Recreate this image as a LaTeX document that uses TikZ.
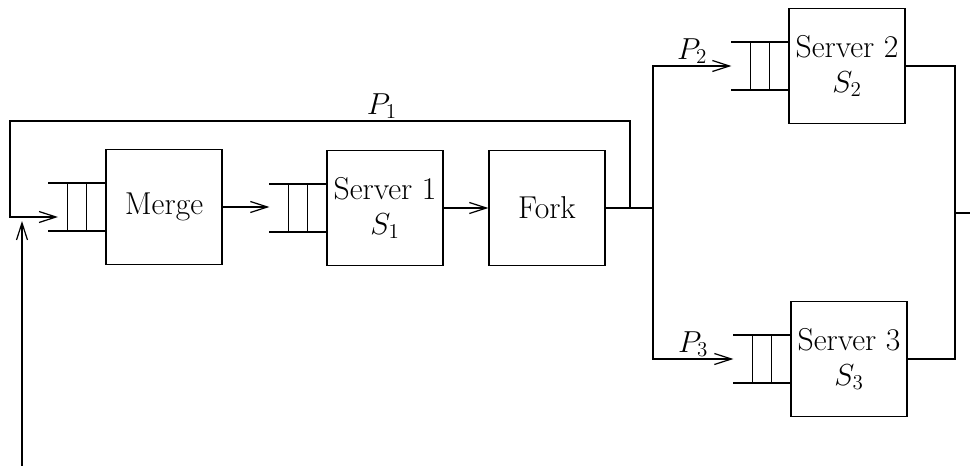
\documentclass[tikz,border=0pt]{standalone}
\usetikzlibrary{arrows.meta, calc}
\begin{document}
\begin{tikzpicture}[x=0.02cm, y=-0.02cm, line width=0.7pt,
    >={Straight Barb[length=3.4mm,width=2.2mm]},
    station/.style={draw, minimum width=2.32cm, minimum height=2.3cm,
      align=center, font=\fontsize{18}{20}\selectfont},
    lbl/.style={above, inner sep=1pt, font=\fontsize{18}{20}\selectfont}]
  \useasboundingbox (0,0) rectangle (970,466);
  \node[station] (merge) at (164,207) {Merge};
  \node[station] (srv1) at (385,208) {Server 1\\ $S_1$};
  \node[station] (fork) at (547,208) {Fork};
  \node[station] (srv2) at (847,66) {Server 2\\ $S_2$};
  \node[station] (srv3) at (849,359) {Server 3\\ $S_3$};
  % queues in front of the stations
  \foreach \s in {merge, srv1, srv2, srv3} {
    \draw ($(\s.west)+(0,-24)$) -- ++(-57,0);
    \draw ($(\s.west)+(0,24)$) -- ++(-57,0);
    \draw[thin] ($(\s.west)+(-19,-24)$) -- ++(0,48);
    \draw[thin] ($(\s.west)+(-38,-24)$) -- ++(0,48);
    \coordinate (\s-in) at ($(\s.west)+(-57,0)$);
  }
  \coordinate (split) at (653,208);
  \coordinate (tap) at (630,208);
  \coordinate (corner) at (10,121);
  \coordinate (loopin) at (58,217);
  \coordinate (ext) at (22,466);
  \coordinate (extin) at (22,221);
  \coordinate (join) at (955,213);
  \coordinate (out) at (970,213);
  \draw[->] (merge.east) -- (merge.east -| srv1-in);
  \draw[->] (srv1.east) -- (fork.west);
  \draw (fork.east) -- (split);
  \draw[->] (split) |- (srv2-in) node[lbl, pos=0.75] {$P_2$};
  \draw[->] (split) |- (srv3-in) node[lbl, pos=0.75] {$P_3$};
  \draw[->] (tap) |- (corner) node[lbl, pos=0.7] {$P_1$} |- (loopin);
  \draw[->] (ext) -- (extin);
  \draw (srv2.east) -| (join);
  \draw (srv3.east) -| (join);
  \draw (join) -- (out);
\end{tikzpicture}
\end{document}
